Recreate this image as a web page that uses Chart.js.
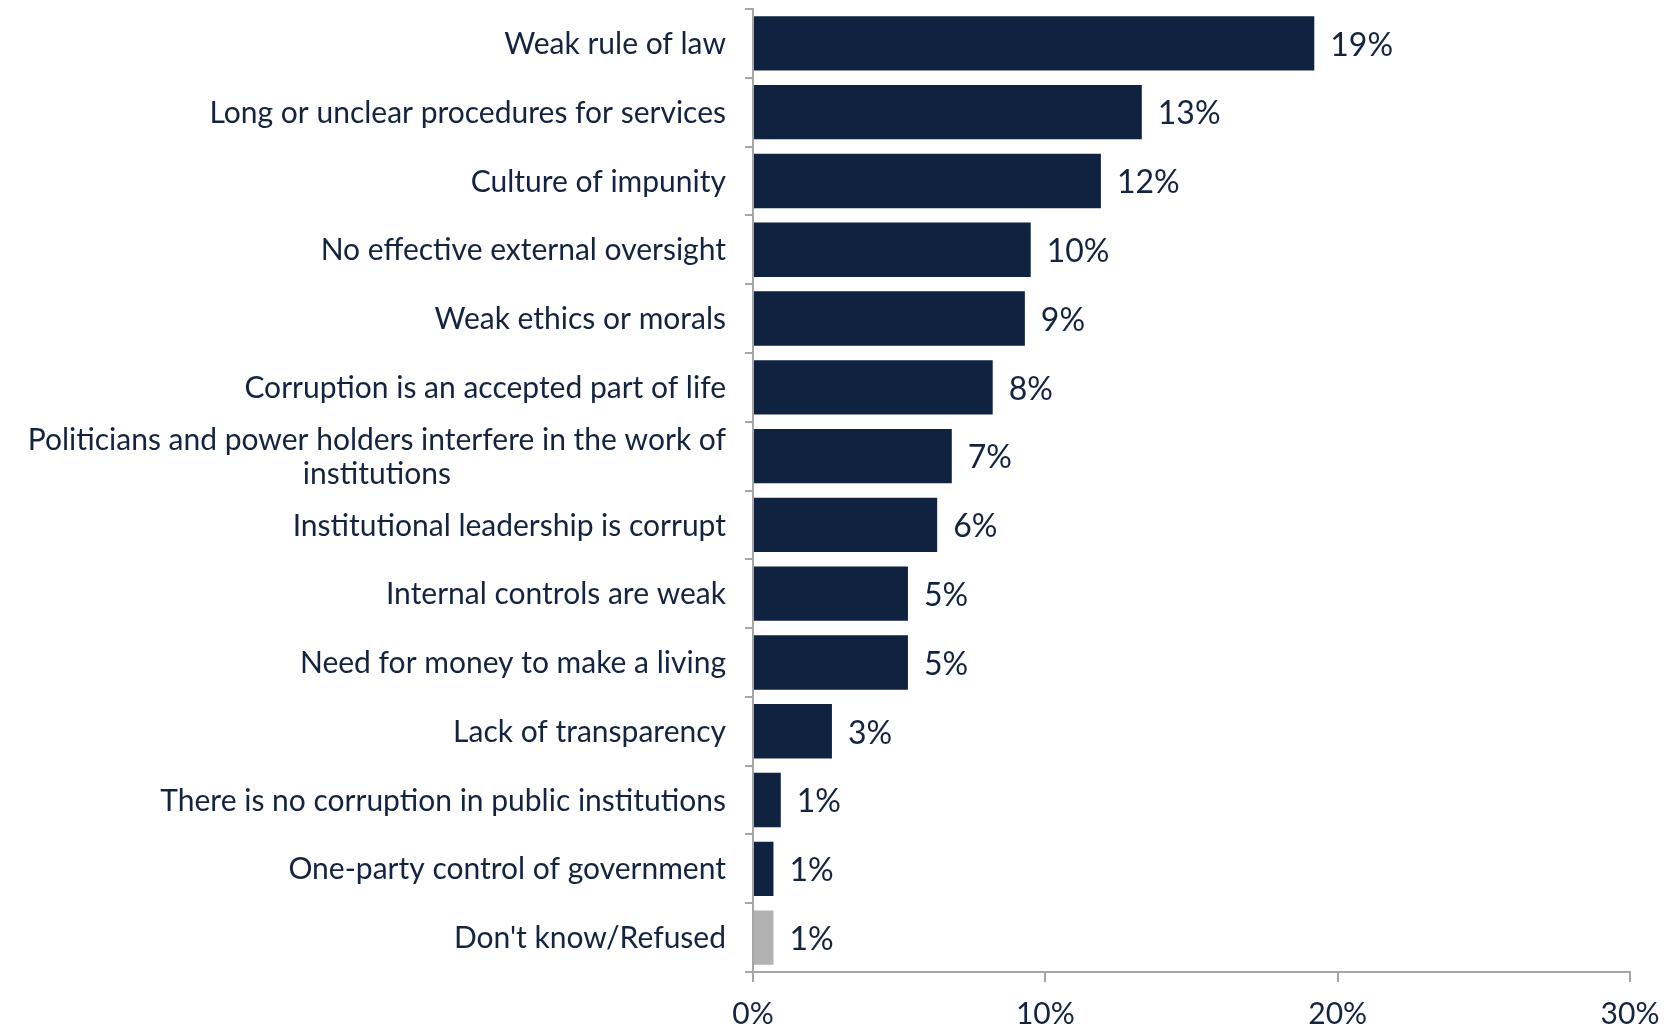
<!DOCTYPE html>
<html>
<head>
<meta charset="utf-8">
<script src="https://cdn.jsdelivr.net/npm/chart.js@4"></script>
<style>
	html, body { margin: 0; padding: 0; background: #ffffff; }
	#wrap { width: 1674px; height: 1028px; }
</style>
</head>
<body>
<div id="wrap"><canvas id="chart"></canvas></div>
<script>

// categories, top to bottom
let categories = [
	"Weak rule of law",
	"Long or unclear procedures for services",
	"Culture of impunity",
	"No effective external oversight",
	"Weak ethics or morals",
	"Corruption is an accepted part of life",
	["Politicians and power holders interfere in the work of", "institutions"],
	"Institutional leadership is corrupt",
	"Internal controls are weak",
	"Need for money to make a living",
	"Lack of transparency",
	"There is no corruption in public institutions",
	"One-party control of government",
	"Don't know/Refused"
];

let values = [19.2, 13.3, 11.9, 9.5, 9.3, 8.2, 6.8, 6.3, 5.3, 5.3, 2.7, 0.95, 0.7, 0.7];
let valueLabels = ["19%", "13%", "12%", "10%", "9%", "8%", "7%", "6%", "5%", "5%", "3%", "1%", "1%", "1%"];
let barColors = ["#0f2341", "#0f2341", "#0f2341", "#0f2341", "#0f2341", "#0f2341", "#0f2341",
	"#0f2341", "#0f2341", "#0f2341", "#0f2341", "#0f2341", "#0f2341", "#b2b2b2"];

let xTicks = [0, 10, 20, 30];

let textColor = "#14233f";
let fontFamily = "Lato, 'Open Sans', sans-serif";

// draws the category labels to the left of the axis
let categoryLabels = {
	id: "categoryLabels",
	afterDraw: function(chart) {
		let ctx = chart.ctx;
		let yScale = chart.scales.y;
		let right = chart.chartArea.left - 27;
		ctx.save();
		ctx.font = "30px " + fontFamily;
		ctx.fillStyle = textColor;
		ctx.textBaseline = "middle";
		categories.forEach(function(label, i) {
			let y = yScale.getPixelForValue(i) + 1;
			if (Array.isArray(label)) {
				let widest = 0;
				label.forEach(function(line) { widest = Math.max(widest, ctx.measureText(line).width); });
				let centre = right - widest / 2;
				let lineHeight = 34;
				let startY = y - (label.length - 1) * lineHeight / 2;
				ctx.textAlign = "center";
				label.forEach(function(line, j) { ctx.fillText(line, centre, startY + j * lineHeight); });
			} else {
				ctx.textAlign = "right";
				ctx.fillText(label, right, y);
			}
		});
		ctx.restore();
	}
};

// draws the value at the end of each bar
let valueLabelsPlugin = {
	id: "valueLabels",
	afterDatasetsDraw: function(chart) {
		let ctx = chart.ctx;
		let meta = chart.getDatasetMeta(0);
		ctx.save();
		ctx.font = "32px " + fontFamily;
		ctx.fillStyle = textColor;
		ctx.textAlign = "left";
		ctx.textBaseline = "middle";
		meta.data.forEach(function(bar, i) {
			ctx.fillText(valueLabels[i], bar.x + 16, bar.y + 2);
		});
		ctx.restore();
	}
};

new Chart(document.getElementById("chart"), {
	type: "bar",
	data: {
		labels: categories,
		datasets: [{
			data: values,
			backgroundColor: barColors,
			borderWidth: 0,
			categoryPercentage: 0.79,
			barPercentage: 1
		}]
	},
	options: {
		indexAxis: "y",
		responsive: true,
		maintainAspectRatio: false,
		animation: false,
		layout: { padding: { top: 9, right: 44, left: 0, bottom: 0 } },
		plugins: {
			legend: { display: false },
			tooltip: { enabled: false }
		},
		scales: {
			x: {
				min: 0,
				max: 30,
				afterBuildTicks: function(scale) {
					scale.ticks = xTicks.map(function(v) { return { value: v }; });
				},
				afterFit: function(scale) { scale.height = 56; },
				border: { display: true, color: "#a6a6a6", width: 2 },
				grid: { drawOnChartArea: false, drawTicks: true, tickLength: 10, color: "#a6a6a6", lineWidth: 2 },
				ticks: {
					color: textColor,
					font: { family: fontFamily, size: 30 },
					padding: 14,
					callback: function(v) { return v + "%"; }
				}
			},
			y: {
				afterFit: function(scale) { scale.width = 753; },
				border: { display: true, color: "#a6a6a6", width: 2 },
				grid: { offset: true, drawOnChartArea: false, drawTicks: true, tickLength: 8, color: "#a6a6a6", lineWidth: 2 },
				ticks: { display: false }
			}
		}
	},
	plugins: [categoryLabels, valueLabelsPlugin]
});

</script>
</body>
</html>
